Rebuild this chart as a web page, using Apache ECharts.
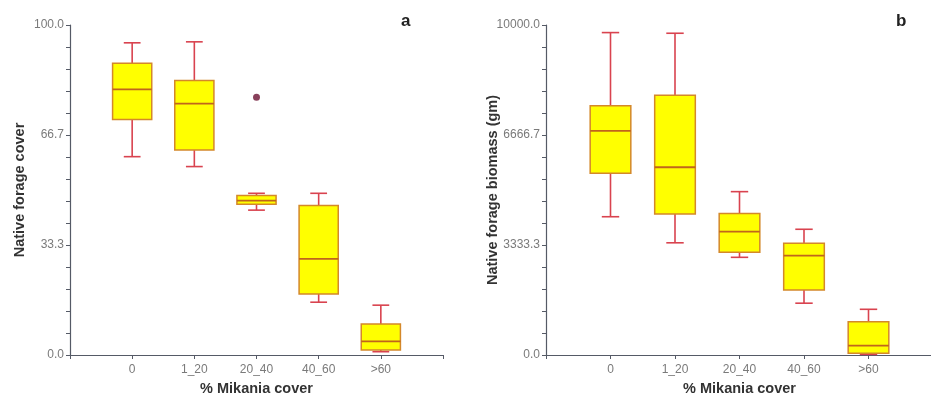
<!DOCTYPE html>
<html>
<head>
<meta charset="utf-8">
<script src="https://cdn.jsdelivr.net/npm/echarts@6/dist/echarts.min.js"></script>
<style>
  html, body { margin: 0; padding: 0; background: #fff; }
  #chart { width: 931px; height: 394px; }
</style>
</head>
<body>
<div id="chart"></div>
<script>
// Mikania cover classes
const categories = ['0', '1_20', '20_40', '40_60', '>60'];

// Panel a: native forage cover (%) — box statistics per class
const coverMin    = [60.1, 57.1, 43.9, 16.0, 1.0];
const coverQ1     = [71.4, 62.1, 45.7, 18.5, 1.5];
const coverMedian = [80.5, 76.2, 46.8, 29.1, 4.1];
const coverQ3     = [88.4, 83.2, 48.3, 45.3, 9.4];
const coverMax    = [94.6, 94.9, 49.0, 49.0, 15.1];
const coverOutliers = [['20_40', 78.1]];

// Panel b: native forage biomass (gm) — box statistics per class
const biomassMin    = [4190, 3400, 2960, 1570, 20];
const biomassQ1     = [5505, 4270, 3110, 1970, 50];
const biomassMedian = [6790, 5690, 3740, 3010, 285];
const biomassQ3     = [7555, 7870, 4290, 3385, 1010];
const biomassMax    = [9770, 9750, 4950, 3810, 1385];

const coverTicks = [0, 100 / 3, 200 / 3, 100];
const biomassTicks = [0, 10000 / 3, 20000 / 3, 10000];

// category axis padded with an empty slot at each end
const xCats = [''].concat(categories, ['']);

function boxRows(lo, q1, med, q3, hi) {
  return categories.map((c, i) => [i + 1, lo[i], q1[i], med[i], q3[i], hi[i]]);
}

const WHISKER = '#d9434f';
const BOX_EDGE = '#d4882a';
const MEDIAN = '#c0651c';
const FILL = '#ffff00';

function renderBox(params, api) {
  const x = api.value(0);
  const band = api.size([1, 0])[0];
  const half = band * 0.315;
  const capHalf = band * 0.135;
  const p = [1, 2, 3, 4, 5].map(k => api.coord([x, api.value(k)]));
  const cx = p[0][0];
  const lo = p[0][1], q1 = p[1][1], med = p[2][1], q3 = p[3][1], hi = p[4][1];
  const wStyle = { stroke: WHISKER, lineWidth: 1.6 };
  return {
    type: 'group',
    children: [
      { type: 'line', shape: { x1: cx, y1: hi, x2: cx, y2: q3 }, style: wStyle },
      { type: 'line', shape: { x1: cx, y1: q1, x2: cx, y2: lo }, style: wStyle },
      { type: 'line', shape: { x1: cx - capHalf, y1: hi, x2: cx + capHalf, y2: hi }, style: wStyle },
      { type: 'line', shape: { x1: cx - capHalf, y1: lo, x2: cx + capHalf, y2: lo }, style: wStyle },
      { type: 'rect', shape: { x: cx - half, y: q3, width: half * 2, height: q1 - q3 },
        style: { fill: FILL, stroke: BOX_EDGE, lineWidth: 1.5 } },
      { type: 'line', shape: { x1: cx - half, y1: med, x2: cx + half, y2: med },
        style: { stroke: MEDIAN, lineWidth: 1.8 } }
    ]
  };
}

const labelFont = { fontFamily: 'Liberation Sans', fontSize: 12, color: '#7a7a7a' };
const nameFont = { fontFamily: 'Liberation Sans', fontSize: 14.5, fontWeight: 'bold', color: '#333' };
const axisLine = { show: true, lineStyle: { color: '#555a66', width: 1.2 } };

function makeX(gridIndex) {
  return {
    type: 'category', gridIndex, data: xCats, boundaryGap: false,
    axisLine, axisTick: { show: true, length: 4, lineStyle: { color: '#555a66' } },
    axisLabel: Object.assign({ margin: 9, interval: 0 }, labelFont),
    name: '% Mikania cover', nameLocation: 'middle', nameGap: 26, nameTextStyle: nameFont,
    splitLine: { show: false }
  };
}

function makeY(gridIndex, ticks, name, gap) {
  const max = ticks[ticks.length - 1];
  return {
    type: 'value', gridIndex, min: 0, max: max, interval: ticks[1],
    axisLine, axisTick: { show: true, length: 4, lineStyle: { color: '#555a66' } },
    minorTick: { show: true, splitNumber: 5, length: 4, lineStyle: { color: '#555a66' } },
    axisLabel: Object.assign({ margin: 6, formatter: v => v.toFixed(1) }, labelFont),
    splitLine: { show: false },
    name, nameLocation: 'middle', nameGap: gap, nameTextStyle: nameFont,
    nameMoveOverlap: false
  };
}

const chart = echarts.init(document.getElementById('chart'), null, { renderer: 'canvas' });
chart.setOption({
  animation: false,
  backgroundColor: '#fff',
  title: [
    { text: 'a', left: 396, top: 8, textStyle: { fontFamily: 'Liberation Sans', fontSize: 17, fontWeight: 'bold', color: '#222' } },
    { text: 'b', left: 891, top: 8, textStyle: { fontFamily: 'Liberation Sans', fontSize: 17, fontWeight: 'bold', color: '#222' } }
  ],
  grid: [
    { left: 70, top: 25, width: 373, height: 330, containLabel: false, outerBoundsMode: 'none' },
    { left: 546, top: 25, width: 387, height: 330, containLabel: false, outerBoundsMode: 'none' }
  ],
  xAxis: [makeX(0), makeX(1)],
  yAxis: [
    makeY(0, coverTicks, 'Native forage cover', 43),
    makeY(1, biomassTicks, 'Native forage biomass (gm)', 46)
  ],
  series: [
    {
      type: 'custom', xAxisIndex: 0, yAxisIndex: 0,
      data: boxRows(coverMin, coverQ1, coverMedian, coverQ3, coverMax),
      encode: { x: 0, y: [1, 2, 3, 4, 5] },
      renderItem: renderBox
    },
    {
      type: 'scatter', xAxisIndex: 0, yAxisIndex: 0,
      data: coverOutliers.map(o => [categories.indexOf(o[0]) + 1, o[1]]),
      symbol: 'circle', symbolSize: 7,
      itemStyle: { color: '#6b1232' }
    },
    {
      type: 'custom', xAxisIndex: 1, yAxisIndex: 1,
      data: boxRows(biomassMin, biomassQ1, biomassMedian, biomassQ3, biomassMax),
      encode: { x: 0, y: [1, 2, 3, 4, 5] },
      renderItem: renderBox
    }
  ]
});
</script>
</body>
</html>
